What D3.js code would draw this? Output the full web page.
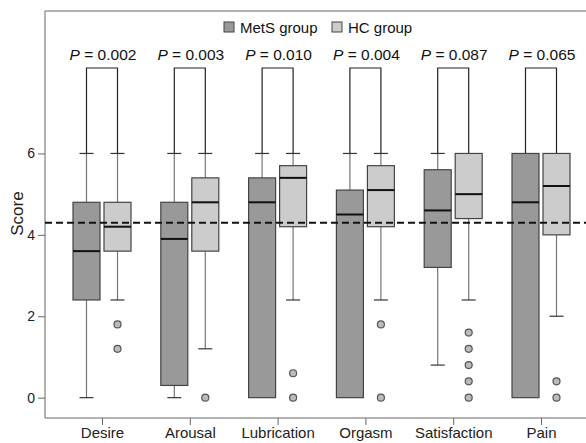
<!DOCTYPE html>
<html>
<head>
<meta charset="utf-8">
<script src="https://cdn.jsdelivr.net/npm/d3@7"></script>
<style>
  body { margin: 0; background: #fff; }
  svg { display: block; font-family: "Liberation Sans", Arial, sans-serif; }
</style>
</head>
<body>
<svg id="chart" width="586" height="443"></svg>
<script>
// categories and p values
const categories = ['Desire', 'Arousal', 'Lubrication', 'Orgasm', 'Satisfaction', 'Pain'];
const pValues = ['0.002', '0.003', '0.010', '0.004', '0.087', '0.065'];

// box stats: [low whisker, q1, median, q3, high whisker]
const metsStats = [
    [0, 2.4, 3.6, 4.8, 6],
    [0, 0.3, 3.9, 4.8, 6],
    [0, 0, 4.8, 5.4, 6],
    [0, 0, 4.5, 5.1, 6],
    [0.8, 3.2, 4.6, 5.6, 6],
    [0, 0, 4.8, 6, 6]
];
const hcStats = [
    [2.4, 3.6, 4.2, 4.8, 6],
    [1.2, 3.6, 4.8, 5.4, 6],
    [2.4, 4.2, 5.4, 5.7, 6],
    [2.4, 4.2, 5.1, 5.7, 6],
    [2.4, 4.4, 5.0, 6, 6],
    [2.0, 4.0, 5.2, 6, 6]
];
const hcOutliers = [[1.8, 1.2], [0], [0.6, 0], [1.8, 0], [1.6, 1.2, 0.8, 0.4, 0], [0.4, 0]];
const metsOutliers = [[], [], [], [], [], []];
const refLine = 4.3;
const bracketTop = 8.1;
const yTicks = [0, 2, 4, 6];

const groups = [
    { name: 'MetS group', stats: metsStats, outliers: metsOutliers, fill: '#999999', offset: -15.5 },
    { name: 'HC group', stats: hcStats, outliers: hcOutliers, fill: '#cccccc', offset: 15.5 }
];

const svg = d3.select('#chart');
const frame = { left: 45, top: 11, bottom: 418, right: 598 };
const boxWidth = 27;
const capWidth = 14;

const x = d3.scalePoint()
    .domain(categories)
    .range([102, 541]);

const y = d3.scaleLinear()
    .domain([-0.5, 9.5])
    .range([frame.bottom, frame.top]);

// frame top line
svg.append('line')
    .attr('x1', frame.left).attr('x2', frame.right)
    .attr('y1', frame.top).attr('y2', frame.top)
    .attr('stroke', '#666').attr('stroke-width', 1);

// y axis
const yAxis = svg.append('g')
    .attr('transform', `translate(${frame.left},0)`)
    .call(d3.axisLeft(y).tickValues(yTicks).tickSize(7).tickPadding(3));
yAxis.select('.domain').attr('stroke', '#666').attr('d', `M0,${frame.top}V${frame.bottom}`);
yAxis.selectAll('.tick line').attr('stroke', '#666');
yAxis.selectAll('.tick text')
    .attr('font-size', 14).attr('fill', '#222')
    .attr('font-family', '"Liberation Sans", Arial, sans-serif');

// x axis
const xAxis = svg.append('g')
    .attr('transform', `translate(0,${frame.bottom})`)
    .call(d3.axisBottom(x).tickSize(7).tickPadding(2));
xAxis.select('.domain').attr('stroke', '#666').attr('d', `M${frame.left},0H${frame.right}`);
xAxis.selectAll('.tick line').attr('stroke', '#666');
xAxis.selectAll('.tick text')
    .attr('font-size', 15).attr('fill', '#222')
    .attr('font-family', '"Liberation Sans", Arial, sans-serif');

// y label
svg.append('text')
    .attr('transform', `translate(23,${(y(6) + y(0)) / 2 - 62}) rotate(-90)`)
    .attr('text-anchor', 'middle')
    .attr('font-size', 17)
    .attr('fill', '#222')
    .text('Score');

// brackets and p values
categories.forEach((cat, i) => {
    const x0 = x(cat) + groups[0].offset;
    const x1 = x(cat) + groups[1].offset;
    const yb = y(bracketTop);
    svg.append('path')
        .attr('d', `M${x0},${y(groups[0].stats[i][4])}V${yb}H${x1}V${y(groups[1].stats[i][4])}`)
        .attr('fill', 'none')
        .attr('stroke', '#222')
        .attr('stroke-width', 1.2);
    const t = svg.append('text')
        .attr('x', (x0 + x1) / 2 + 1)
        .attr('y', yb - 8)
        .attr('text-anchor', 'middle')
        .attr('font-size', 15.5)
        .attr('fill', '#111');
    t.append('tspan').attr('font-style', 'italic').text('P');
    t.append('tspan').text(' = ' + pValues[i]);
});

// boxes
groups.forEach(g => {
    const layer = svg.append('g');
    categories.forEach((cat, i) => {
        const [lo, q1, med, q3, hi] = g.stats[i];
        const cx = x(cat) + g.offset;
        // whiskers
        if (hi > q3) {
            layer.append('line')
                .attr('x1', cx).attr('x2', cx)
                .attr('y1', y(q3)).attr('y2', y(hi))
                .attr('stroke', '#777').attr('stroke-width', 1.2);
            layer.append('line')
                .attr('x1', cx - capWidth / 2).attr('x2', cx + capWidth / 2)
                .attr('y1', y(hi)).attr('y2', y(hi))
                .attr('stroke', '#333').attr('stroke-width', 1.2);
        }
        if (lo < q1) {
            layer.append('line')
                .attr('x1', cx).attr('x2', cx)
                .attr('y1', y(q1)).attr('y2', y(lo))
                .attr('stroke', '#777').attr('stroke-width', 1.2);
            layer.append('line')
                .attr('x1', cx - capWidth / 2).attr('x2', cx + capWidth / 2)
                .attr('y1', y(lo)).attr('y2', y(lo))
                .attr('stroke', '#333').attr('stroke-width', 1.2);
        }
        layer.append('rect')
            .attr('x', cx - boxWidth / 2)
            .attr('y', y(q3))
            .attr('width', boxWidth)
            .attr('height', y(q1) - y(q3))
            .attr('fill', g.fill)
            .attr('stroke', '#444')
            .attr('stroke-width', 1.2);
        layer.append('line')
            .attr('x1', cx - boxWidth / 2).attr('x2', cx + boxWidth / 2)
            .attr('y1', y(med)).attr('y2', y(med))
            .attr('stroke', '#111').attr('stroke-width', 2);
        layer.selectAll(null)
            .data(g.outliers[i])
            .enter()
            .append('circle')
            .attr('cx', cx)
            .attr('cy', d => y(d))
            .attr('r', 3.5)
            .attr('fill', '#bbbbbb')
            .attr('stroke', '#555')
            .attr('stroke-width', 1.2);
    });
});

// reference line
svg.append('line')
    .attr('x1', frame.left).attr('x2', frame.right)
    .attr('y1', y(refLine)).attr('y2', y(refLine))
    .attr('stroke', '#111')
    .attr('stroke-width', 2)
    .attr('stroke-dasharray', '7,4');

// legend
const legend = svg.append('g').attr('transform', 'translate(224,27)');
const legendX = [0, 108];
groups.forEach((g, i) => {
    const item = legend.append('g').attr('transform', `translate(${legendX[i]},0)`);
    item.append('rect')
        .attr('x', 0).attr('y', -5)
        .attr('width', 10).attr('height', 10)
        .attr('fill', g.fill)
        .attr('stroke', '#444');
    item.append('text')
        .attr('x', 16).attr('y', 5.5)
        .attr('font-size', 15)
        .attr('fill', '#111')
        .text(g.name);
});
</script>
</body>
</html>
